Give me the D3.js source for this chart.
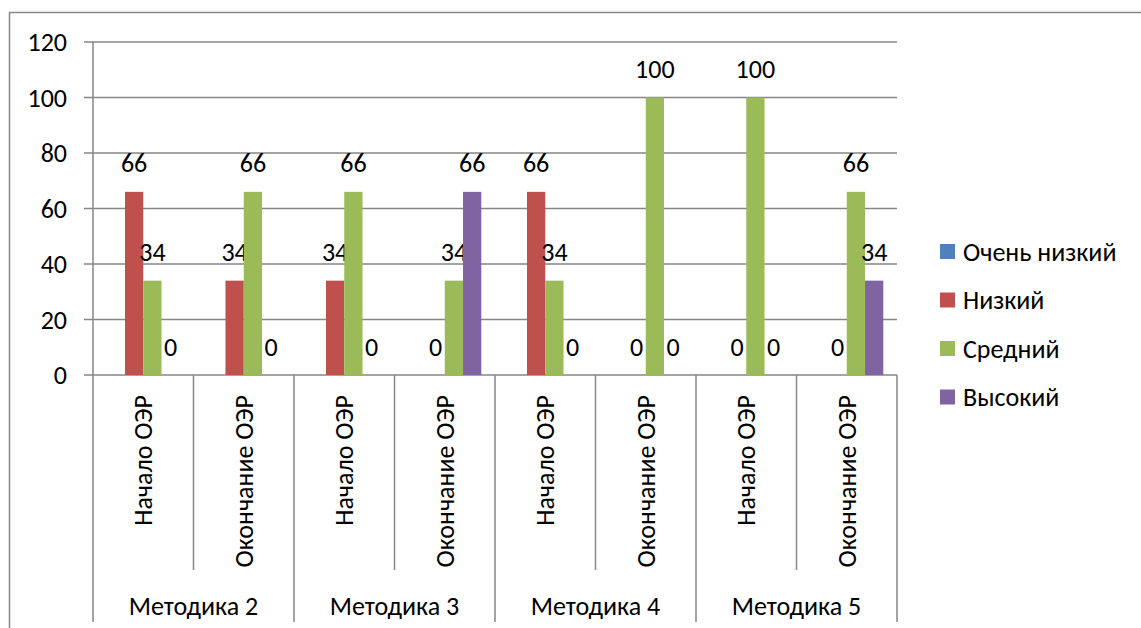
<!DOCTYPE html>
<html>
<head>
<meta charset="utf-8">
<script src="https://cdn.jsdelivr.net/npm/d3@7/dist/d3.min.js"></script>
<style>
  html, body { margin: 0; padding: 0; background: #fff; }
  svg { display: block; }
  text { font-family: Carlito, Calibri, Lato, "Noto Sans", sans-serif; fill: #000; }
</style>
</head>
<body>
<svg id="chart" width="1141" height="628"></svg>
<script>
// Category labels (inner level) and their groups (outer level)
const categories = [
  "Начало ОЭР", "Окончание ОЭР",
  "Начало ОЭР", "Окончание ОЭР",
  "Начало ОЭР", "Окончание ОЭР",
  "Начало ОЭР", "Окончание ОЭР"
];
const groups = ["Методика 2", "Методика 3", "Методика 4", "Методика 5"];

// Series names and colours
const seriesNames = ["Очень низкий", "Низкий", "Средний", "Высокий"];
const seriesColors = ["#4F81BD", "#C0504D", "#9BBB59", "#8064A2"];

// Series values per category (null = no value)
const veryLow = [null, null, null, null, null, null, null, null];
const low     = [66, 34, 34, 0, 66, 0, 0, 0];
const medium  = [34, 66, 66, 34, 34, 100, 100, 66];
const high    = [0, 0, 0, 66, 0, 0, 0, 34];

const yTicks = [0, 20, 40, 60, 80, 100, 120];

const seriesValues = [veryLow, low, medium, high];

const svg = d3.select("#chart");

const plot = { left: 93, right: 897, top: 42, bottom: 375 };
const gridColor = "#868686";
const fontSize = 26;

// Outer chart frame
svg.append("rect")
  .attr("x", 9.5).attr("y", 12.5)
  .attr("width", 1300).attr("height", 800)
  .attr("fill", "none").attr("stroke", gridColor).attr("stroke-width", 1.5);

const idx = d3.range(categories.length);
const x = d3.scaleBand().domain(idx).range([plot.left, plot.right]).padding(0);
const xs = d3.scaleBand().domain(d3.range(seriesNames.length))
  .range([0, x.bandwidth()]).paddingInner(0).paddingOuter(0.75);
const y = d3.scaleLinear().domain([0, 120]).range([plot.bottom, plot.top]);

// Horizontal gridlines
svg.append("g").selectAll("line").data(yTicks).join("line")
  .attr("x1", plot.left - 9).attr("x2", plot.right)
  .attr("y1", d => y(d)).attr("y2", d => y(d))
  .attr("stroke", gridColor).attr("stroke-width", 1.5);

// Y axis labels
svg.append("g").selectAll("text").data(yTicks).join("text")
  .attr("x", 67).attr("y", d => y(d)).attr("dy", "0.35em")
  .attr("text-anchor", "end").attr("font-size", fontSize)
  .text(d => d);

// Y axis line (continues down as the first group divider)
svg.append("line")
  .attr("x1", plot.left).attr("x2", plot.left)
  .attr("y1", plot.top).attr("y2", 622)
  .attr("stroke", gridColor).attr("stroke-width", 1.5);

// Category dividers: inner ones short, group ones long
idx.slice(1).concat([categories.length]).forEach(i => {
  const xx = i === categories.length ? plot.right : x(i);
  const isGroup = i % 2 === 0;
  svg.append("line")
    .attr("x1", xx).attr("x2", xx)
    .attr("y1", plot.bottom).attr("y2", isGroup ? 622 : 570)
    .attr("stroke", gridColor).attr("stroke-width", 1.5);
});

// Bars
seriesValues.forEach((vals, s) => {
  const g = svg.append("g");
  g.selectAll("rect").data(idx.filter(i => vals[i] !== null)).join("rect")
    .attr("x", i => x(i) + xs(s))
    .attr("width", xs.bandwidth())
    .attr("y", i => y(vals[i]))
    .attr("height", i => y(0) - y(vals[i]))
    .attr("fill", seriesColors[s]);
  // Data labels
  g.selectAll("text").data(idx.filter(i => vals[i] !== null)).join("text")
    .attr("x", i => x(i) + xs(s) + xs.bandwidth() / 2)
    .attr("y", i => y(vals[i]) - 19.5)
    .attr("text-anchor", "middle").attr("font-size", fontSize)
    .text(i => vals[i]);
});

// Inner category labels (rotated)
svg.append("g").selectAll("text").data(idx).join("text")
  .attr("transform", i => `translate(${x(i) + x.bandwidth() / 2},395) rotate(-90)`)
  .attr("text-anchor", "end").attr("dy", "0.35em").attr("font-size", fontSize)
  .text(i => categories[i]);

// Group labels
svg.append("g").selectAll("text").data(groups).join("text")
  .attr("x", (d, gi) => x(gi * 2) + x.bandwidth())
  .attr("y", 615)
  .attr("text-anchor", "middle").attr("font-size", fontSize)
  .text(d => d);

// Legend
const legend = svg.append("g").attr("transform", "translate(940,244)");
seriesNames.forEach((name, s) => {
  const row = legend.append("g").attr("transform", `translate(0,${s * 48.5})`);
  row.append("rect").attr("width", 15).attr("height", 15).attr("fill", seriesColors[s]);
  row.append("text").attr("x", 23).attr("y", 7.5).attr("dy", "0.35em")
    .attr("font-size", fontSize).text(name);
});
</script>
</body>
</html>
